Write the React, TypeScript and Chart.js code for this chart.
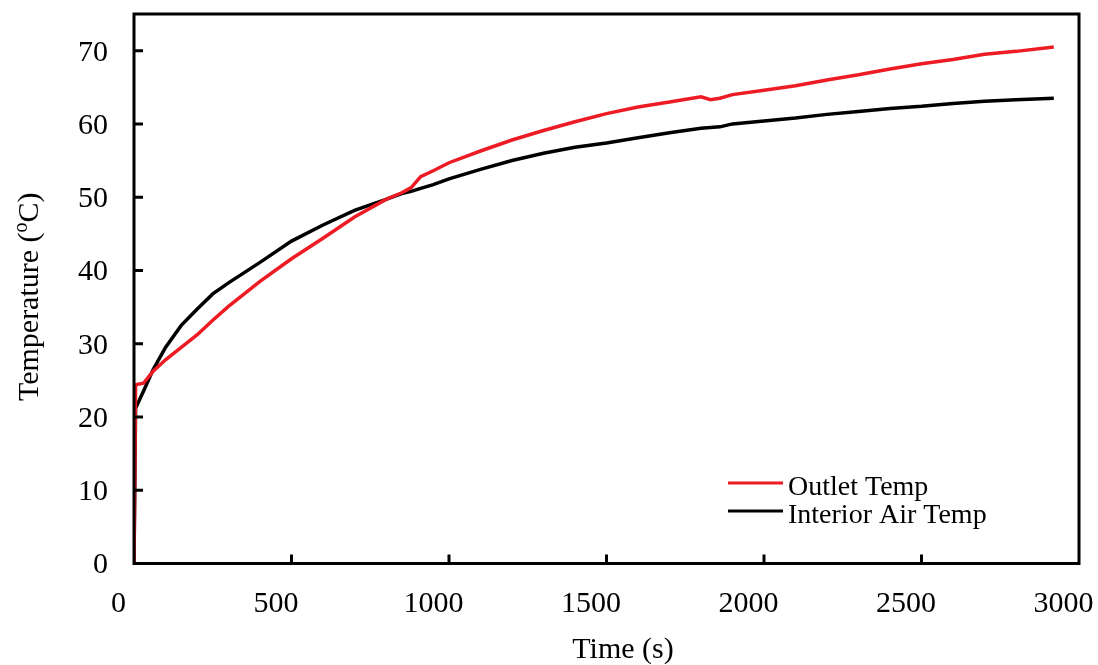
import React, { useEffect, useRef } from "react";
import { Chart, registerables } from "chart.js";

Chart.register(...registerables);

// ---- data ----
const timeSec = [
  0, 5, 30, 60, 100, 150, 200, 250, 300, 400, 500, 600, 700, 800, 850, 880, 910, 950,
  1000, 1100, 1200, 1300, 1400, 1500, 1600, 1700, 1800, 1830, 1860, 1900, 2000, 2100,
  2200, 2300, 2400, 2500, 2600, 2700, 2800, 2920,
];
const outletTemp = [
  0, 24.4, 24.6, 26.2, 27.8, 29.5, 31.2, 33.2, 35.1, 38.5, 41.6, 44.4, 47.3, 49.7, 50.6, 51.3, 52.8, 53.6,
  54.7, 56.3, 57.8, 59.1, 60.3, 61.4, 62.3, 63.0, 63.7, 63.3, 63.5, 64.0, 64.6, 65.2,
  66.0, 66.7, 67.5, 68.2, 68.8, 69.5, 69.9, 70.5,
];
const interiorTemp = [
  0, 21.2, 23.5, 26.4, 29.5, 32.5, 34.7, 36.8, 38.3, 41.1, 44.0, 46.2, 48.2, 49.7, 50.5, 50.8, 51.2, 51.7,
  52.5, 53.8, 55.0, 56.0, 56.8, 57.4, 58.1, 58.8, 59.4, 59.5, 59.6, 60.0, 60.4, 60.8,
  61.3, 61.7, 62.1, 62.4, 62.8, 63.1, 63.3, 63.5,
];
const xTickValues = [0, 500, 1000, 1500, 2000, 2500, 3000];
const yTickValues = [0, 10, 20, 30, 40, 50, 60, 70];
const seriesNames = ["Outlet Temp", "Interior Air Temp"];
const seriesColors = ["#ed1c24", "#000000"];
const xTitle = "Time (s)";
const yTitleParts = ["Temperature (", "o", "C)"];

const FONT = "'Liberation Serif', 'Times New Roman', serif";

const decorPlugin = {
  id: "decor",
  afterDraw(chart: any) {
    const { ctx, chartArea } = chart;
    const { left, right, top, bottom } = chartArea;
    const xs = chart.scales.x;
    const ys = chart.scales.y;
    ctx.save();
    ctx.strokeStyle = "#000";
    ctx.lineWidth = 3;
    ctx.lineCap = "butt";
    // inner tick marks
    ctx.beginPath();
    xTickValues.forEach((v) => {
      const px = xs.getPixelForValue(v);
      if (Math.abs(px - left) < 2 || Math.abs(px - right) < 2) return;
      ctx.moveTo(px, bottom);
      ctx.lineTo(px, bottom - 9);
    });
    yTickValues.forEach((v) => {
      const py = ys.getPixelForValue(v);
      if (Math.abs(py - bottom) < 2 || Math.abs(py - top) < 2) return;
      ctx.moveTo(left, py);
      ctx.lineTo(left + 9, py);
    });
    ctx.stroke();
    // frame
    ctx.lineWidth = 3;
    ctx.strokeRect(left, top, right - left, bottom - top);

    ctx.fillStyle = "#000";
    ctx.textBaseline = "alphabetic";

    // x title
    ctx.font = "30px " + FONT;
    ctx.textAlign = "center";
    ctx.fillText(xTitle, (left + right) / 2 + 16.5, 658);

    // y title with superscript
    const big = "30px " + FONT;
    const small = "20px " + FONT;
    ctx.font = big;
    const w0 = ctx.measureText(yTitleParts[0]).width;
    const w2 = ctx.measureText(yTitleParts[2]).width;
    ctx.font = small;
    const w1 = ctx.measureText(yTitleParts[1]).width;
    const total = w0 + w1 + w2;
    const cy = (top + bottom) / 2 + 8;
    ctx.translate(38, cy);
    ctx.rotate(-Math.PI / 2);
    let x0 = -total / 2;
    ctx.textAlign = "left";
    ctx.font = big;
    ctx.fillText(yTitleParts[0], x0, 0);
    x0 += w0;
    ctx.font = small;
    ctx.fillText(yTitleParts[1], x0, -11);
    x0 += w1;
    ctx.font = big;
    ctx.fillText(yTitleParts[2], x0, 0);
    ctx.setTransform(1, 0, 0, 1, 0, 0);

    // legend
    ctx.font = "28px " + FONT;
    ctx.textAlign = "left";
    chart.data.datasets.forEach((ds: any, i: number) => {
      const ly = 483 + i * 28;
      ctx.strokeStyle = ds.borderColor;
      ctx.lineWidth = 3;
      ctx.beginPath();
      ctx.moveTo(728, ly);
      ctx.lineTo(783, ly);
      ctx.stroke();
      ctx.fillStyle = "#000";
      ctx.fillText(ds.label, 788, ly + 12);
    });
    ctx.restore();
  },
};

export default function App() {
  const ref = useRef<HTMLCanvasElement | null>(null);
  useEffect(() => {
    if (!ref.current) return;
    const datasets = [outletTemp, interiorTemp].map((vals, i) => ({
      label: seriesNames[i],
      data: timeSec.map((t, j) => ({ x: t, y: vals[j] })),
      borderColor: seriesColors[i],
      backgroundColor: seriesColors[i],
      borderWidth: 3.5,
      pointRadius: 0,
      tension: 0,
      fill: false,
    }));
    const zeroPad = (axis: any) => {
      axis.paddingLeft = 0;
      axis.paddingRight = 0;
      axis.paddingTop = 0;
      axis.paddingBottom = 0;
    };
    const chart = new Chart(ref.current, {
      type: "line",
      data: { datasets },
      plugins: [decorPlugin],
      options: {
        responsive: false,
        animation: false,
        layout: { padding: { top: 14, right: 19, left: 0, bottom: 0 } },
        plugins: { legend: { display: false }, tooltip: { enabled: false } },
        scales: {
          x: {
            type: "linear",
            min: 0,
            max: 3000,
            afterBuildTicks: (axis: any) => {
              axis.ticks = xTickValues.map((v) => ({ value: v }));
            },
            afterFit: (axis: any) => {
              axis.height = 101.5;
              zeroPad(axis);
            },
            grid: { display: false, drawTicks: false },
            border: { display: false },
            ticks: {
              color: "#000",
              padding: 23,
              labelOffset: -15.5,
              maxRotation: 0,
              callback: (v: any) => String(v),
              font: { family: FONT, size: 30 },
            },
            title: { display: false },
          },
          y: {
            type: "linear",
            min: 0,
            max: 75,
            afterBuildTicks: (axis: any) => {
              axis.ticks = yTickValues.map((v) => ({ value: v }));
            },
            afterFit: (axis: any) => {
              axis.width = 134;
              zeroPad(axis);
            },
            grid: { display: false, drawTicks: false },
            border: { display: false },
            ticks: {
              color: "#000",
              padding: 26,
              labelOffset: 2,
              callback: (v: any) => String(v),
              font: { family: FONT, size: 30 },
            },
            title: { display: false },
          },
        },
      },
    });
    return () => chart.destroy();
  }, []);
  return (
    <div style={{ position: "absolute", left: 0, top: 0, width: 1098, height: 665, background: "#fff" }}>
      <canvas ref={ref} width={1098} height={665} style={{ width: 1098, height: 665, display: "block" }} />
    </div>
  );
}
